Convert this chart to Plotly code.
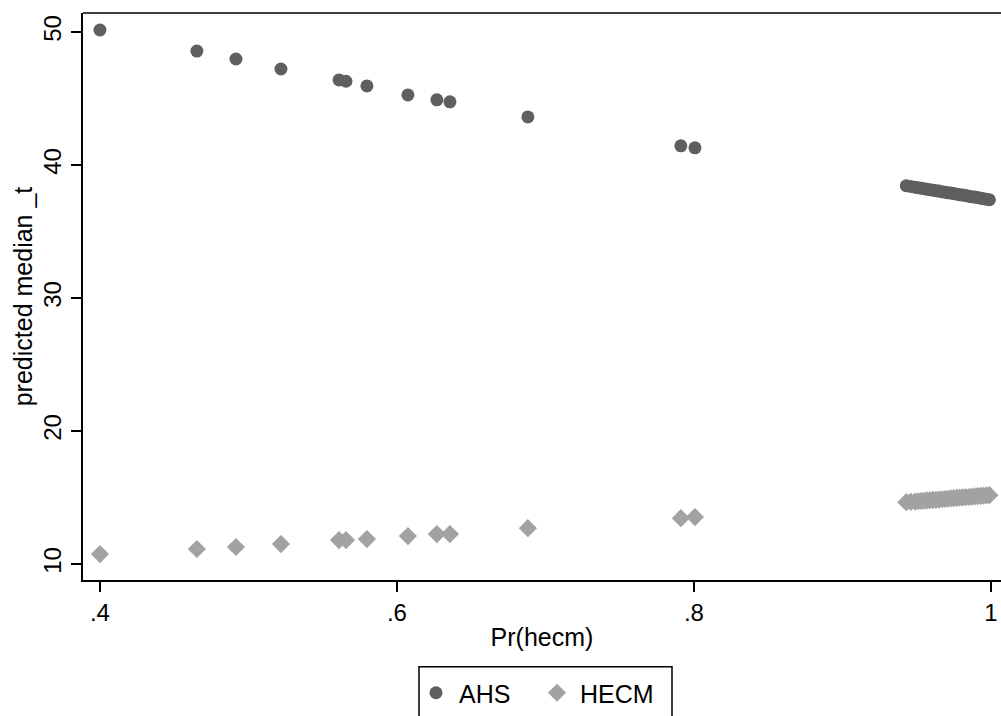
import plotly.graph_objects as go

# Predicted median by probability of HECM
pr_hecm = [0.400, 0.4653, 0.4916, 0.5219, 0.561, 0.5657, 0.5798, 0.6074, 0.6269, 0.6357,
           0.6882, 0.7912, 0.8007,
           0.943, 0.946, 0.949, 0.951, 0.953, 0.955, 0.957, 0.959, 0.961, 0.963,
           0.965, 0.967, 0.969, 0.971, 0.973, 0.975, 0.977, 0.979, 0.981, 0.983,
           0.985, 0.987, 0.989, 0.991, 0.993, 0.995, 0.997, 0.999]

ahs = [50.15, 48.57, 47.97, 47.22, 46.40, 46.30, 45.95, 45.27, 44.90, 44.75,
       43.62, 41.44, 41.29,
       38.44, 38.39, 38.33, 38.30, 38.26, 38.22, 38.18, 38.15, 38.11, 38.07,
       38.04, 38.00, 37.96, 37.92, 37.89, 37.85, 37.81, 37.77, 37.74, 37.70,
       37.66, 37.62, 37.59, 37.55, 37.51, 37.47, 37.43, 37.39]

hecm = [10.75, 11.13, 11.28, 11.50, 11.80, 11.80, 11.88, 12.10, 12.25, 12.25,
        12.70, 13.45, 13.53,
        14.65, 14.68, 14.70, 14.72, 14.74, 14.76, 14.78, 14.80, 14.82, 14.83,
        14.85, 14.87, 14.89, 14.91, 14.93, 14.95, 14.97, 14.99, 15.01, 15.02,
        15.04, 15.06, 15.08, 15.10, 15.12, 15.14, 15.16, 15.18]

x_ticks = [0.4, 0.6, 0.8, 1.0]
x_tick_text = [".4", ".6", ".8", "1"]
y_ticks = [10, 20, 30, 40, 50]

FONT = "Liberation Sans, Arial, Helvetica, sans-serif"

W, H = 1001, 716
ML, MR, MT, MB = 83, 0, 13, 135
PW, PH = W - ML - MR, H - MT - MB


def px_to_paper_x(px):
    return (px - ML) / PW


def px_to_paper_y(py):
    return (H - MB - py) / PH


fig = go.Figure()
fig.add_trace(go.Scatter(
    x=pr_hecm, y=ahs, mode="markers", name="AHS",
    marker=dict(symbol="circle", size=13, color="#5f5f5f", line=dict(width=0)),
))
fig.add_trace(go.Scatter(
    x=pr_hecm, y=hecm, mode="markers", name="HECM",
    marker=dict(symbol="diamond", size=14, color="#a2a2a2", line=dict(width=0)),
))

fig.update_layout(
    width=W, height=H,
    margin=dict(l=ML, r=MR, t=MT, b=MB),
    paper_bgcolor="white", plot_bgcolor="white",
    font=dict(family=FONT, size=24, color="black"),
    showlegend=True,
    legend=dict(
        orientation="h", x=px_to_paper_x(413), xanchor="left",
        y=px_to_paper_y(671), yanchor="top",
        borderwidth=0, bgcolor="rgba(0,0,0,0)",
        font=dict(size=25), itemwidth=36,
        entrywidth=70, entrywidthmode="pixels",
    ),
    xaxis=dict(
        range=[0.3886, 1.0068], tickvals=x_ticks, ticktext=x_tick_text,
        showgrid=False, zeroline=False, showline=True, linecolor="black", linewidth=2,
        ticks="outside", ticklen=10, tickwidth=1.5, tickcolor="black",
        tickfont=dict(size=24),
        title=dict(text="Pr(hecm)", font=dict(size=25), standoff=4),
    ),
    yaxis=dict(
        range=[8.8, 51.43], tickvals=y_ticks, tickangle=-90,
        showgrid=False, zeroline=False, showline=True, linecolor="black", linewidth=2,
        ticks="outside", ticklen=10, tickwidth=1.5, tickcolor="black",
        tickfont=dict(size=24),
        title=dict(text="predicted median _t", font=dict(size=25), standoff=0),
    ),
    shapes=[
        # top frame line
        dict(type="line", xref="paper", yref="paper", x0=0, x1=1, y0=1, y1=1,
             line=dict(color="black", width=1.5)),
        # legend frame
        dict(type="rect", xref="paper", yref="paper",
             x0=px_to_paper_x(419), x1=px_to_paper_x(672),
             y0=px_to_paper_y(668), y1=px_to_paper_y(740),
             line=dict(color="black", width=1.5), fillcolor="rgba(0,0,0,0)", layer="below"),
    ],
)

fig.write_html("out.html")
